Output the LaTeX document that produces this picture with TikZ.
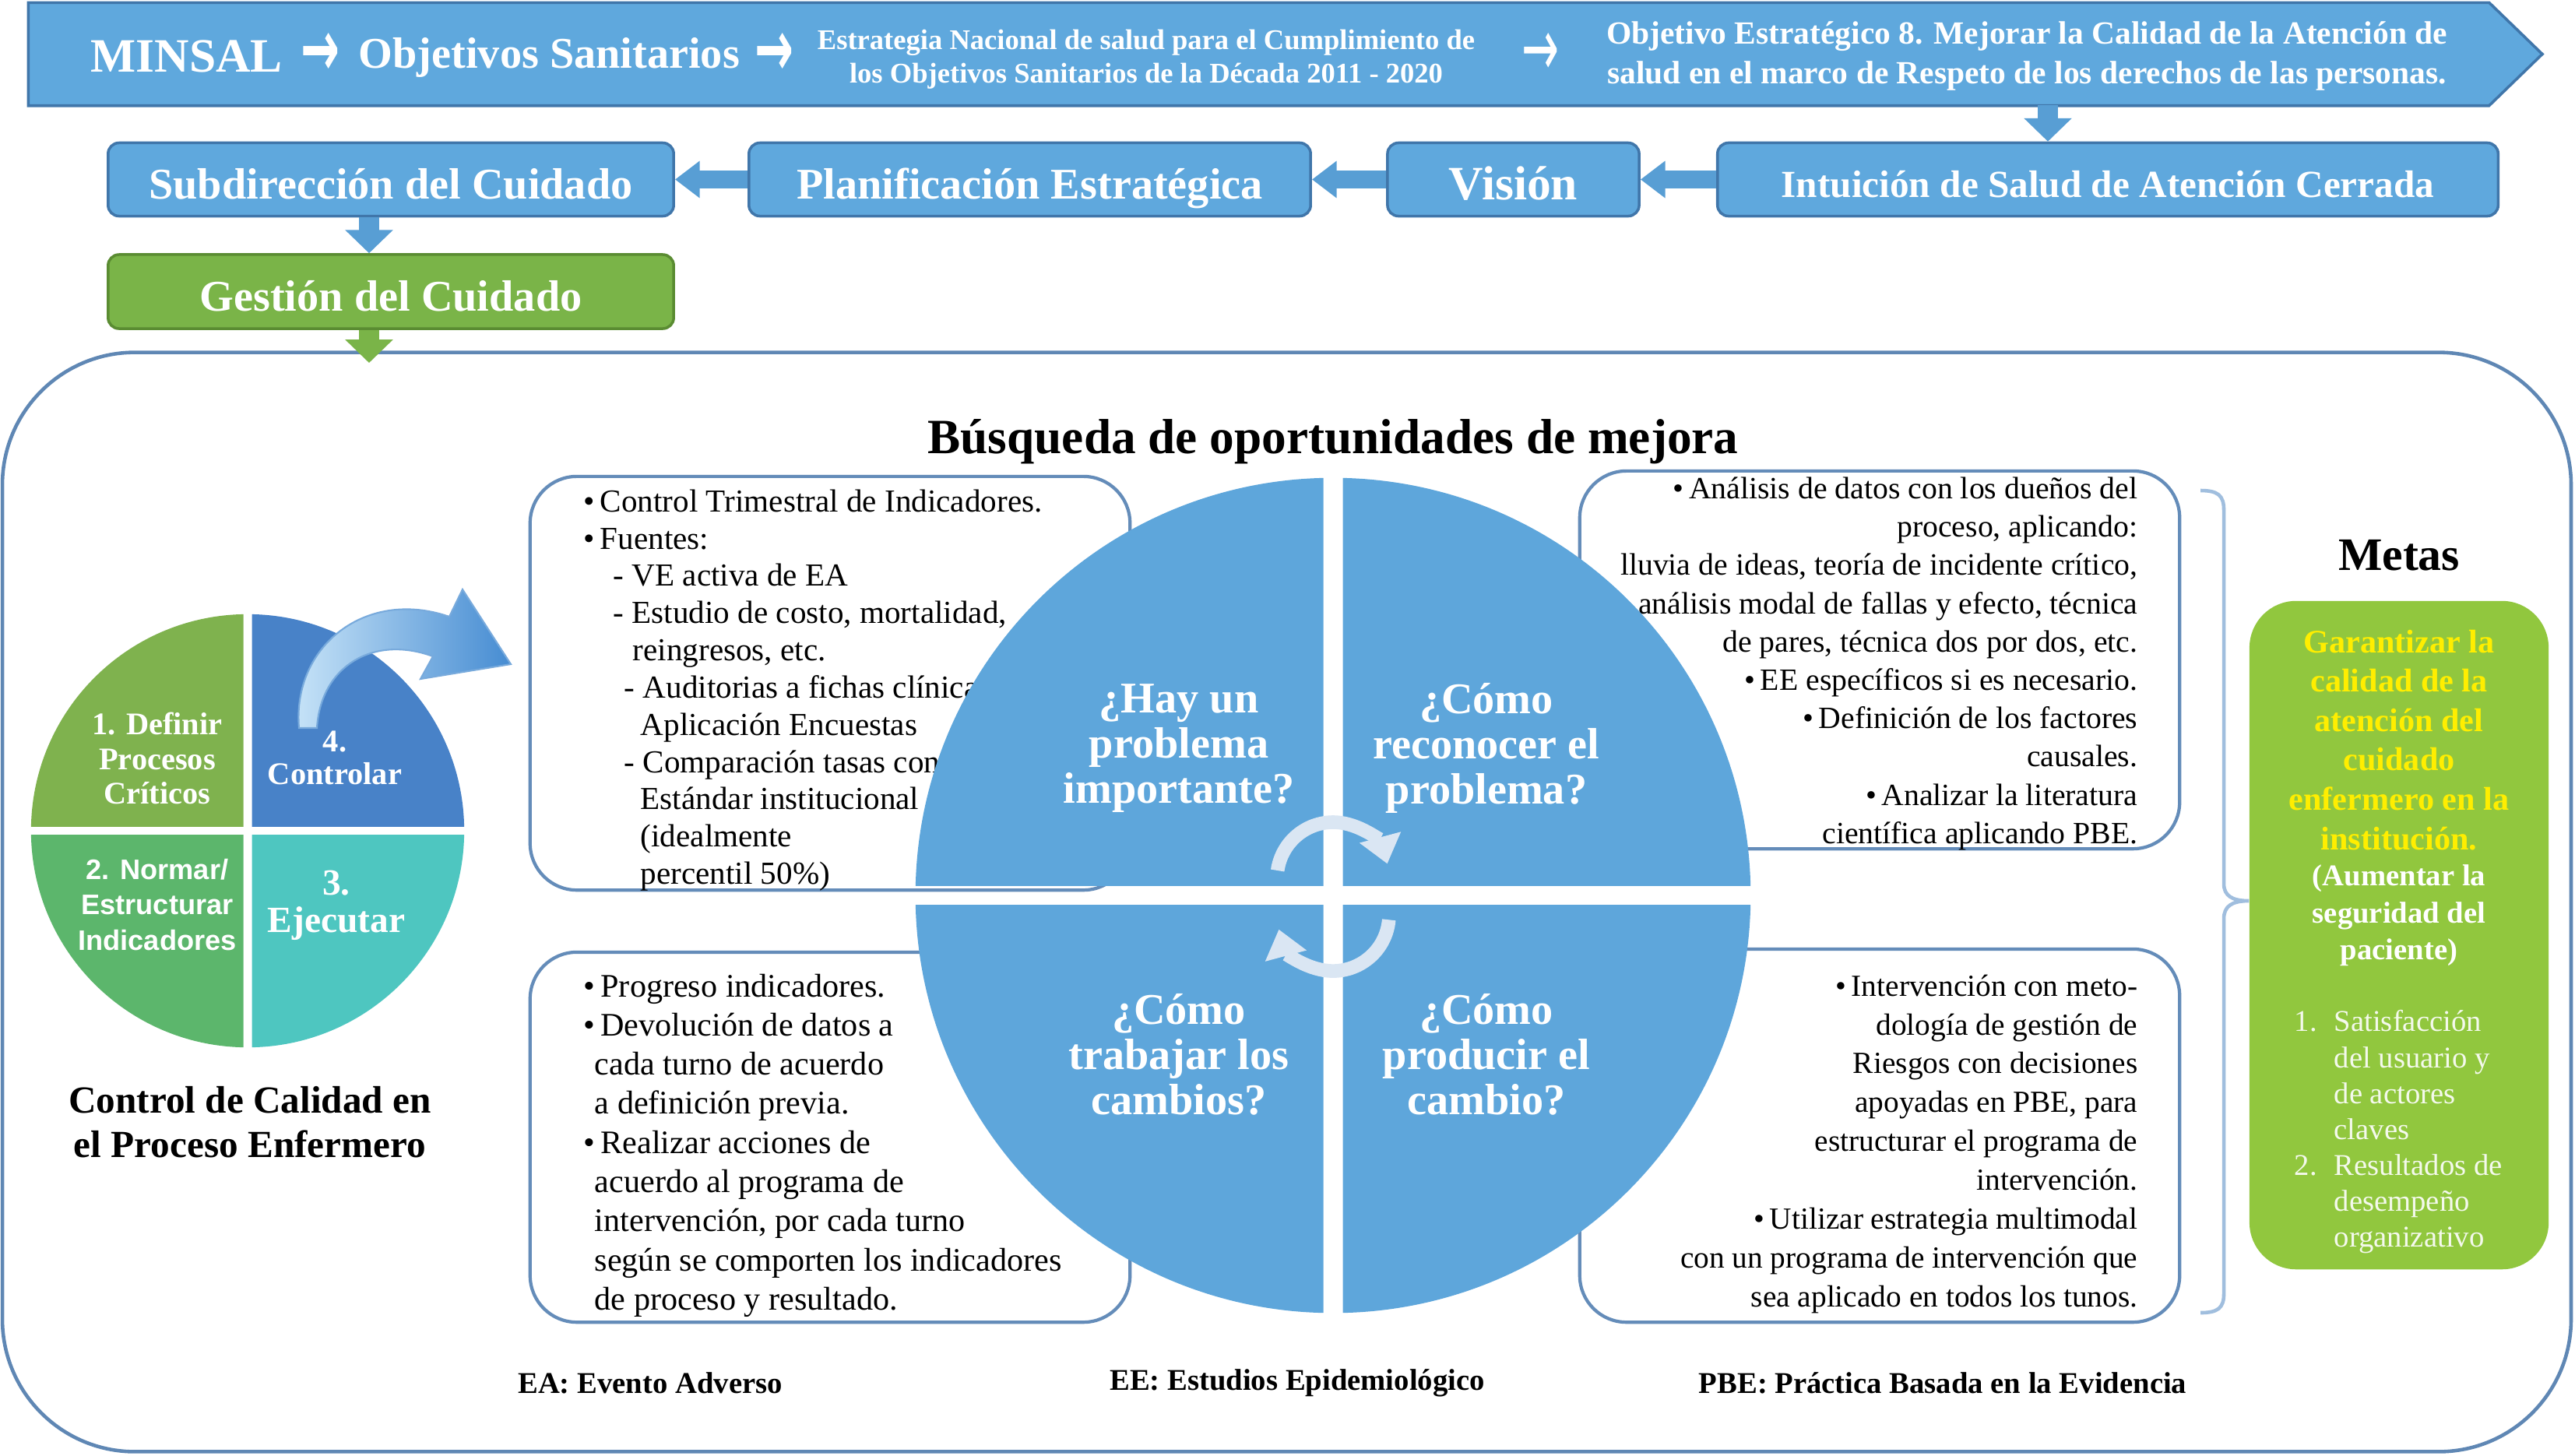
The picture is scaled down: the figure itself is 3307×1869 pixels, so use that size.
\documentclass[tikz,border=0pt]{standalone}
\usepackage{fontspec}
\setmainfont{Liberation Serif}
\newfontfamily\sansf{Liberation Sans}
\newfontfamily\dejavu{DejaVu Sans}
\usetikzlibrary{arrows.meta,calc}
\definecolor{bblue}{RGB}{95,168,221}
\definecolor{bborder}{RGB}{64,118,170}
\definecolor{arrblue}{RGB}{88,158,212}
\definecolor{qblue}{RGB}{94,166,219}
\definecolor{gestgreen}{RGB}{122,180,72}
\definecolor{gestborder}{RGB}{90,140,50}
\definecolor{metagreen}{RGB}{145,199,62}
\definecolor{metayellow}{RGB}{255,238,0}
\definecolor{frameblue}{RGB}{95,135,180}
\definecolor{boxborder}{RGB}{100,140,185}
\definecolor{pieA}{RGB}{127,178,78}
\definecolor{pieB}{RGB}{72,130,200}
\definecolor{pieC}{RGB}{92,182,108}
\definecolor{pieD}{RGB}{78,198,192}
\definecolor{cyc}{RGB}{218,230,243}
\definecolor{bracecol}{RGB}{160,190,222}
\definecolor{arrlight}{RGB}{200,228,248}
\definecolor{arrdark}{RGB}{70,140,210}
\definecolor{arredge}{RGB}{120,170,220}
\begin{document}
\begin{tikzpicture}[x=0.01cm,y=-0.01cm,
  rowbox/.style={draw=bborder, line width=1pt, fill=bblue, rounded corners=4pt, inner sep=0pt, text=white, font=\bfseries\fontsize{16}{18}\selectfont, minimum height=0.94cm, text height=17pt, text depth=3pt},
  harrow/.style={draw=arrblue, line width=6.3pt, -{Triangle[length=9pt,width=13pt]}},
  varrow/.style={draw=arrblue, line width=7.5pt, -{Triangle[length=8.5pt,width=17pt]}},
  tbox/.style={draw=boxborder, line width=1.2pt, fill=white, rounded corners=0.6cm, inner sep=0pt},
  qtext/.style={align=center, text=white, font=\bfseries\fontsize{16}{16.5}\selectfont, inner sep=0pt},
  pietext/.style={align=center, text=white, inner sep=0pt},
  boxtext/.style={inner sep=0pt, text=black},
  legend/.style={font=\bfseries\fontsize{11}{13}\selectfont, inner sep=0pt},
  bannerarrow/.style={text=white, inner sep=0pt},
  cycarrow/.style={draw=cyc, line width=5pt, -{Triangle[length=10pt,width=15pt]}}
]
\useasboundingbox (0,0) rectangle (3307,1869);
\fill[white] (0,0) rectangle (3307,1869);

% big frame
\node[draw=frameblue, line width=1.3pt, rounded corners=1.7cm, minimum width=32.97cm, minimum height=14.11cm, inner sep=0pt] (frame) at (1652.5,1158.5) {};

% banner
\node[inner sep=0pt, minimum width=31.57cm, minimum height=1.31cm] (banner) at (1616.5,69.5) {};
\filldraw[fill=bblue, draw=bborder, line width=1pt] (banner.north west) -- (banner.north east) -- (3265,69.5) -- (banner.south east) -- (banner.south west) -- cycle;
\node[anchor=west, text=white, font=\bfseries\fontsize{17.5}{20}\selectfont, inner sep=0pt] (minsal) at (116,72) {MINSAL};
\node[bannerarrow] (ar1) at (412,70) {\resizebox{0.5cm}{0.55cm}{\dejavu\bfseries →}};
\node[anchor=west, text=white, font=\bfseries\fontsize{16}{20}\selectfont, inner sep=0pt] (objs) at (460,74) {Objetivos Sanitarios};
\node[bannerarrow] (ar2) at (994,70) {\resizebox{0.5cm}{0.55cm}{\dejavu\bfseries →}};
\node[align=center, text=white, font=\bfseries\fontsize{10.4}{12.4}\selectfont, inner sep=0pt] (estr) at (1472,76) {Estrategia Nacional de salud para el Cumplimiento de\\los Objetivos Sanitarios de la Década 2011 - 2020};
\node[bannerarrow] (ar3) at (1978,70) {\resizebox{0.48cm}{0.55cm}{\dejavu →}};
\node[align=center, text=white, font=\bfseries\fontsize{11.8}{14.4}\selectfont, inner sep=0pt] (obj8) at (2603,72) {Objetivo Estratégico 8. Mejorar la Calidad de la Atención de\\salud en el marco de Respeto de los derechos de las personas.};

% second row
\node[rowbox, minimum width=7.26cm] (sub) at (502,230.5) {Subdirección del Cuidado};
\node[rowbox, minimum width=7.21cm] (plan) at (1322.5,230.5) {Planificación Estratégica};
\node[rowbox, minimum width=3.23cm, font=\bfseries\fontsize{17.5}{20}\selectfont, text height=18pt] (vis) at (1943.5,230.5) {Visión};
\node[rowbox, minimum width=10.02cm, font=\bfseries\fontsize{14}{16}\selectfont, text height=16pt, text depth=3pt] (intu) at (2707,230.5) {Intuición de Salud de Atención Cerrada};
\node[rowbox, fill=gestgreen, draw=gestborder, minimum width=7.26cm, minimum height=0.95cm] (gest) at (502,374.5) {Gestión del Cuidado};

\draw[harrow] (intu.west) -- (vis.east);
\draw[harrow] (vis.west) -- (plan.east);
\draw[harrow] (plan.west) -- (sub.east);
\draw[varrow] ($(sub.south)+(-28,0)$) -- ($(gest.north)+(-28,0)$);
\coordinate (bannerfoot) at (2630,135);
\draw[varrow] (bannerfoot) -- (bannerfoot |- intu.north);
\coordinate (framein) at (474,466);
\draw[varrow, draw=gestgreen] ($(gest.south)+(-28,0)$) -- (framein);

% left pie
\node[circle, minimum size=5.56cm, inner sep=0pt] (pie) at (318,1067) {};
\begin{scope}\clip ($(pie.center)+(-300,-300)$) rectangle ($(pie.center)+(-5.5,-5.5)$); \fill[pieA] (pie.center) circle[radius=2.78cm];\end{scope}
\begin{scope}\clip ($(pie.center)+(5.5,-300)$) rectangle ($(pie.center)+(300,-5.5)$); \fill[pieB] (pie.center) circle[radius=2.78cm];\end{scope}
\begin{scope}\clip ($(pie.center)+(-300,5.5)$) rectangle ($(pie.center)+(-5.5,300)$); \fill[pieC] (pie.center) circle[radius=2.78cm];\end{scope}
\begin{scope}\clip ($(pie.center)+(5.5,5.5)$) rectangle ($(pie.center)+(300,300)$); \fill[pieD] (pie.center) circle[radius=2.78cm];\end{scope}
\node[pietext, font=\bfseries\fontsize{11.5}{12.6}\selectfont] (p1) at (202,974) {1. Definir\\Procesos\\Críticos};
\node[pietext, font=\bfseries\fontsize{11.5}{12}\selectfont] (p4) at (430,973) {4.\\Controlar};
\node[pietext, font=\sansf\bfseries\fontsize{10.3}{13}\selectfont] (p2) at (202,1162) {2. Normar/\\Estructurar\\Indicadores};
\node[pietext, font=\bfseries\fontsize{13.5}{13.7}\selectfont] (p3) at (432,1163) {3.\\Ejecutar};
\shade[left color=arrlight, right color=arrdark, draw=arredge, line width=0.6pt]
  (384,935) .. controls (375,830) and (470,755) .. (577,792) -- (594,757) -- (656,853) -- (540,872) -- (556,843) .. controls (480,815) and (412,855) .. (407,935) -- cycle;
\node[align=center, font=\bfseries\fontsize{14}{16.2}\selectfont, inner sep=0pt] (cap) at (321,1441) {Control de Calidad en\\el Proceso Enfermero};

% title
\node[font=\bfseries\fontsize{18}{21}\selectfont, inner sep=0pt] (title) at (1712,567) {Búsqueda de oportunidades de mejora};

% text boxes
\node[tbox, minimum width=7.70cm, minimum height=5.31cm] (tlbox) at (1066,877.5) {};
\node[tbox, minimum width=7.70cm, minimum height=4.85cm] (trbox) at (2414,847.5) {};
\node[tbox, minimum width=7.70cm, minimum height=4.75cm] (blbox) at (1066,1460.5) {};
\node[tbox, minimum width=7.70cm, minimum height=4.79cm] (brbox) at (2414,1458.5) {};

\node[boxtext, anchor=north west, align=left, font=\fontsize{11.7}{13.6}\selectfont] (tltext) at (749,628) {•\,Control Trimestral de Indicadores.\\
•\,Fuentes:\\
\hspace*{0.38cm}- VE activa de EA\\
\hspace*{0.38cm}- Estudio de costo, mortalidad,\\
\hspace*{0.63cm}reingresos, etc.\\
\hspace*{0.52cm}- Auditorias a fichas clínicas\\
\hspace*{0.73cm}Aplicación Encuestas\\
\hspace*{0.52cm}- Comparación tasas con\\
\hspace*{0.73cm}Estándar institucional\\
\hspace*{0.73cm}(idealmente\\
\hspace*{0.73cm}percentil 50\%)};

\node[boxtext, anchor=north east, align=right, font=\fontsize{11.3}{14}\selectfont] (trtext) at (2746,612) {•\,Análisis de datos con los dueños del\\
proceso, aplicando:\\
lluvia de ideas, teoría de incidente crítico,\\
análisis modal de fallas y efecto, técnica\\
de pares, técnica dos por dos, etc.\\
•\,EE específicos si es necesario.\\
•\,Definición de los factores\\
causales.\\
•\,Analizar la literatura\\
científica aplicando PBE.};

\node[boxtext, anchor=north west, align=left, font=\fontsize{12}{14.3}\selectfont] (bltext) at (749,1250) {•\,Progreso indicadores.\\
•\,Devolución de datos a\\
\hspace*{0.14cm}cada turno de acuerdo\\
\hspace*{0.14cm}a definición previa.\\
•\,Realizar acciones de\\
\hspace*{0.14cm}acuerdo al programa de\\
\hspace*{0.14cm}intervención, por cada turno\\
\hspace*{0.14cm}según se comporten los indicadores\\
\hspace*{0.14cm}de proceso y resultado.};

\node[boxtext, anchor=north east, align=right, font=\fontsize{11.2}{14.2}\selectfont] (brtext) at (2746,1251) {•\,Intervención con meto-\\
dología de gestión de\\
Riesgos con decisiones\\
apoyadas en PBE, para\\
estructurar el programa de\\
intervención.\\
•\,Utilizar estrategia multimodal\\
con un programa de intervención que\\
sea aplicado en todos los tunos.};

% central circle
\node[circle, minimum size=10.72cm, inner sep=0pt] (circ) at (1712,1150) {};
\begin{scope}\clip ($(circ.center)+(-600,-600)$) rectangle ($(circ.center)+(-12.5,-12.5)$); \fill[qblue] (circ.center) circle[radius=5.36cm];\end{scope}
\begin{scope}\clip ($(circ.center)+(12.5,-600)$) rectangle ($(circ.center)+(600,-12.5)$); \fill[qblue] (circ.center) circle[radius=5.36cm];\end{scope}
\begin{scope}\clip ($(circ.center)+(-600,12.5)$) rectangle ($(circ.center)+(-12.5,600)$); \fill[qblue] (circ.center) circle[radius=5.36cm];\end{scope}
\begin{scope}\clip ($(circ.center)+(12.5,12.5)$) rectangle ($(circ.center)+(600,600)$); \fill[qblue] (circ.center) circle[radius=5.36cm];\end{scope}
\node[qtext] (q1) at (1514,961) {¿Hay un\\problema\\importante?};
\node[qtext] (q2) at (1909,961) {¿Cómo\\reconocer el\\problema?};
\node[qtext] (q3) at (1514,1354) {¿Cómo\\trabajar los\\cambios?};
\node[qtext] (q4) at (1909,1354) {¿Cómo\\producir el\\cambio?};
\draw[cycarrow] ($(circ.center)+(-71.3,-32)$) arc[start angle=172, end angle=15, radius=0.72cm];
\draw[cycarrow] ($(circ.center)+(71.7,31.3)$) arc[start angle=-5, end angle=-165, radius=0.72cm];

% brace and goals
\node[font=\bfseries\fontsize{17}{20}\selectfont, inner sep=0pt] (metas) at (3081,713) {Metas};
\node[fill=metagreen, rounded corners=0.6cm, minimum width=3.84cm, minimum height=8.58cm, inner sep=0pt] (metasbox) at (3081,1201) {};
\coordinate (brtip) at (metasbox.west |- 0,1157);
\draw[bracecol, line width=1.3pt] (2826,630) .. controls (2848,630) and (2856,636) .. (2856,655) -- (2856,1135) .. controls (2856,1150) and (2866,1157) .. (brtip) .. controls (2866,1157) and (2856,1164) .. (2856,1180) -- (2856,1662) .. controls (2856,1680) and (2848,1686) .. (2826,1686);
\node[anchor=north, align=center, text=metayellow, font=\bfseries\fontsize{12}{14.4}\selectfont, inner sep=0pt] (goal) at (3081,808) {Garantizar la\\calidad de la\\atención del\\cuidado\\enfermero en la\\institución.};
\node[anchor=north, align=center, text=white, font=\bfseries\fontsize{11}{13.5}\selectfont, inner sep=0pt] (seg) at (3081,1110) {(Aumentar la\\seguridad del\\paciente)};
\node[anchor=north west, align=left, text=white!90!metagreen, font=\fontsize{11}{13.1}\selectfont, inner sep=0pt] (list) at (2946,1297) {\makebox[0.51cm][l]{1.}Satisfacción\\
\hspace*{0.51cm}del usuario y\\
\hspace*{0.51cm}de actores\\
\hspace*{0.51cm}claves\\
\makebox[0.51cm][l]{2.}Resultados de\\
\hspace*{0.51cm}desempeño\\
\hspace*{0.51cm}organizativo};

% legend
\node[legend] (lea) at (835,1776) {EA: Evento Adverso};
\node[legend] (lee) at (1666,1776) {EE: Estudios Epidemiológico};
\node[legend] (lpbe) at (2495,1776) {PBE: Práctica Basada en la Evidencia};
\end{tikzpicture}
\end{document}
